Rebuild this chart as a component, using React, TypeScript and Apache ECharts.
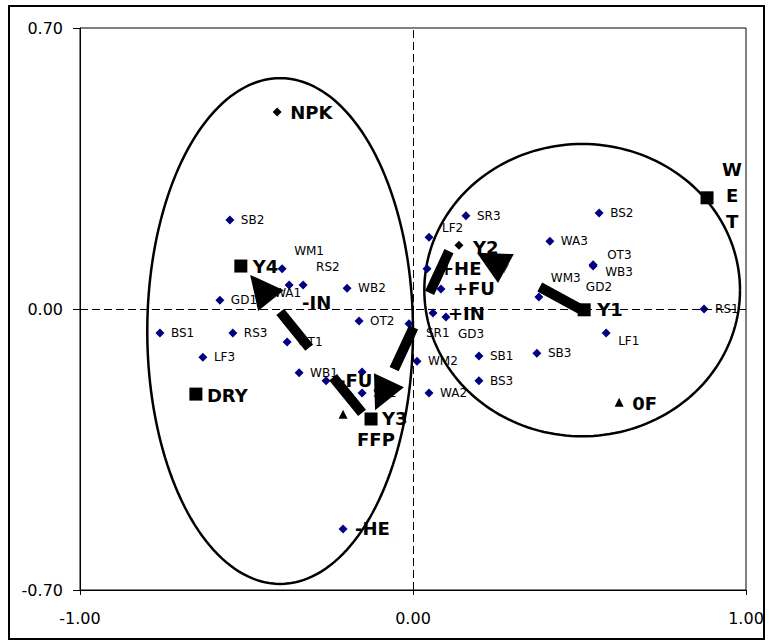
import React, { useEffect, useRef } from 'react';
import * as echarts from 'echarts';

// ---------- axis ticks ----------
const xTickLabels = ['-1.00', '0.00', '1.00'];
const yTickLabels = ['-0.70', '0.00', '0.70'];
const X_MIN = -1, X_MAX = 1, X_STEP = 1;
const Y_MIN = -0.7, Y_MAX = 0.7, Y_STEP = 0.7;

// ---------- samples (navy diamonds) ----------
const sampleNames = ['SB2', 'GD1', 'BS1', 'RS3', 'LF3', 'WM1', 'WA1', 'RS2', 'WB2', 'OT2', 'OT1', 'WB1', 'SR1', 'WM2', 'WA2', 'LF2', 'SR3', 'GD3', 'SB1', 'BS3', 'SB3', 'WA3', 'BS2', 'OT3', 'WB3', 'WM3', 'GD2', 'LF1', 'RS1', 'SR2'];
const sampleX = [-0.550, -0.580, -0.760, -0.541, -0.631, -0.393, -0.450, -0.330, -0.198, -0.162, -0.378, -0.342, -0.012, 0.012, 0.048, 0.048, 0.159, 0.099, 0.198, 0.198, 0.372, 0.411, 0.559, 0.541, 0.541, 0.378, 0.483, 0.580, 0.874, -0.153];
const sampleY = [0.222, 0.022, -0.060, -0.060, -0.120, 0.100, 0.040, 0.060, 0.052, -0.030, -0.082, -0.159, -0.037, -0.130, -0.209, 0.179, 0.232, -0.020, -0.117, -0.179, -0.110, 0.169, 0.239, 0.110, 0.107, 0.030, 0.007, -0.060, 0.000, -0.209];
const extraX = [-0.153];
const extraY = [-0.157];

// ---------- factors (navy diamonds, bold labels) ----------
const factorNames = ['-IN', '-FU', '+HE', '+FU', '+IN', '-HE'];
const factorX = [-0.372, -0.261, 0.042, 0.084, 0.060, -0.210];
const factorY = [0.060, -0.179, 0.100, 0.050, -0.010, -0.548];

// ---------- black squares ----------
const squareNames = ['Y4', 'DRY', 'Y3', 'Y1', 'WET'];
const squareX = [-0.517, -0.652, -0.126, 0.514, 0.883];
const squareY = [0.107, -0.212, -0.274, -0.002, 0.277];

// ---------- black triangles ----------
const triangleNames = ['FFP', '0F'];
const triangleX = [-0.210, 0.619];
const triangleY = [-0.262, -0.232];

// ---------- black diamonds ----------
const blackDiamondNames = ['NPK', 'Y2'];
const blackDiamondX = [-0.408, 0.138];
const blackDiamondY = [0.491, 0.159];

// ---------- arrows (trajectory Y1 -> Y2 -> Y3 -> Y4) ----------
const arrowTailX = [0.502, 0.108, -0.153];
const arrowTailY = [0.000, 0.144, -0.259];
const arrowTipX = [0.192, -0.114, -0.489];
const arrowTipY = [0.140, -0.252, 0.085];

// ---------- ellipses ----------
const ellipseCx = [-0.399, 0.508];
const ellipseCy = [-0.055, 0.047];
const ellipseRx = [0.399, 0.474];
const ellipseRy = [0.630, 0.364];

// ---------- styles (label placements in px, not data) ----------
const FONT = 'DejaVu Sans';
const NAVY = '#000080';
const labelShift: Record<string, [number, number]> = {
  WM1: [12, -18], RS2: [13, -18], SR1: [17, 9], LF2: [13, -9], GD3: [12, 17],
  OT3: [14, -10], WB3: [12, 6], WM3: [12, -19], GD2: [12, -19], LF1: [12, 8],
  '-IN': [13, 18], '+IN': [15, 0], DRY: [11, 1], Y3: [11, 0], Y1: [13, 0],
  FFP: [14, 25], '0F': [13, 1], NPK: [13, 1], Y2: [14, 2], WET: [25, -2],
};

function makeLabel(name: string, size: number, bold: boolean, def: number) {
  const s = labelShift[name] || [def, 0];
  const base: any = {
    show: true,
    position: 'right',
    distance: 0,
    offset: [s[0] - size / 2, s[1]],
    fontFamily: FONT,
    fontSize: bold ? 18 : 12,
    fontWeight: bold ? 'bold' : 'normal',
    color: '#000',
    formatter: name,
  };
  if (name === 'WET') {
    base.formatter = 'W\nE\nT';
    base.align = 'center';
    base.lineHeight = 26;
  }
  return base;
}

function buildItems(names: string[], xs: number[], ys: number[], size: number, bold: boolean, def: number) {
  return names.map((n, i) => ({ name: n, value: [xs[i], ys[i]], label: makeLabel(n, size, bold, def) }));
}

function tickFormatter(labels: string[], min: number, step: number) {
  return (v: number) => {
    const idx = Math.round((v - min) / step);
    return labels[idx] ?? '';
  };
}

export default function App() {
  const ref = useRef<HTMLDivElement>(null);

  useEffect(() => {
    if (!ref.current) return;
    const chart = echarts.init(ref.current, null, { renderer: 'svg' });

    const HEAD_LEN = 33;
    const HEAD_W = 33;

    const option: any = {
      animation: false,
      backgroundColor: '#fff',
      grid: {
        left: 80, right: 26, top: 28, bottom: 51,
        show: true, borderColor: '#000', borderWidth: 1, backgroundColor: 'transparent',
      },
      graphic: [
        {
          type: 'rect',
          shape: { x: 9, y: 6, width: 755, height: 633 },
          style: { fill: 'none', stroke: '#000', lineWidth: 2 },
          silent: true,
          z: 100,
        },
      ],
      xAxis: {
        type: 'value', min: X_MIN, max: X_MAX, interval: X_STEP,
        axisLine: { show: true, onZero: false, lineStyle: { color: '#000', width: 1 } },
        axisTick: { show: true, length: 5, lineStyle: { color: '#000' } },
        splitLine: { show: false },
        axisLabel: {
          formatter: tickFormatter(xTickLabels, X_MIN, X_STEP),
          fontFamily: FONT, fontSize: 16, color: '#000', margin: 20,
        },
      },
      yAxis: {
        type: 'value', min: Y_MIN, max: Y_MAX, interval: Y_STEP,
        axisLine: { show: true, onZero: false, lineStyle: { color: '#000', width: 1 } },
        axisTick: { show: true, length: 7, lineStyle: { color: '#000' } },
        splitLine: { show: false },
        axisLabel: {
          formatter: tickFormatter(yTickLabels, Y_MIN, Y_STEP),
          fontFamily: FONT, fontSize: 16, color: '#000', margin: 17,
        },
      },
      series: [
        {
          type: 'custom',
          name: 'ellipses',
          z: 1,
          clip: false,
          silent: true,
          data: ellipseCx.map((c, i) => [c, ellipseCy[i]]),
          renderItem: (params: any, api: any) => {
            const i = params.dataIndex;
            const pts: number[][] = [];
            const N = 180;
            for (let k = 0; k <= N; k++) {
              const t = (k / N) * Math.PI * 2;
              pts.push(api.coord([ellipseCx[i] + ellipseRx[i] * Math.cos(t), ellipseCy[i] + ellipseRy[i] * Math.sin(t)]));
            }
            return { type: 'polyline', shape: { points: pts }, style: { fill: 'none', stroke: '#000', lineWidth: 2.5 } };
          },
        },
        {
          type: 'scatter',
          name: 'samples',
          z: 3,
          symbol: 'diamond',
          symbolSize: 9,
          itemStyle: { color: NAVY, opacity: 1 },
          data: buildItems(sampleNames, sampleX, sampleY, 9, false, 11),
          markLine: {
            silent: true,
            symbol: ['none', 'none'],
            label: { show: false },
            lineStyle: { color: '#000', width: 1, type: [8, 4], opacity: 1 },
            data: [{ xAxis: 0 }, { yAxis: 0 }],
          },
        },
        {
          type: 'scatter',
          name: 'unlabeled',
          z: 3,
          symbol: 'diamond',
          symbolSize: 9,
          itemStyle: { color: NAVY, opacity: 1 },
          data: extraX.map((x, i) => [x, extraY[i]]),
        },
        {
          type: 'scatter',
          name: 'factors',
          z: 3,
          symbol: 'diamond',
          symbolSize: 9,
          itemStyle: { color: NAVY, opacity: 1 },
          data: buildItems(factorNames, factorX, factorY, 9, true, 12),
        },
        {
          type: 'custom',
          name: 'arrows',
          z: 5,
          silent: true,
          data: arrowTailX.map((x, i) => [x, arrowTailY[i]]),
          renderItem: (params: any, api: any) => {
            const i = params.dataIndex;
            const p1 = api.coord([arrowTailX[i], arrowTailY[i]]);
            const p2 = api.coord([arrowTipX[i], arrowTipY[i]]);
            const dx = p2[0] - p1[0];
            const dy = p2[1] - p1[1];
            const len = Math.hypot(dx, dy) || 1;
            const ux = dx / len, uy = dy / len;
            const bx = p2[0] - ux * HEAD_LEN, by = p2[1] - uy * HEAD_LEN;
            const px = -uy * HEAD_W / 2, py = ux * HEAD_W / 2;
            return {
              type: 'group',
              children: [
                {
                  type: 'line',
                  shape: { x1: p1[0], y1: p1[1], x2: bx, y2: by },
                  style: { stroke: '#000', lineWidth: 10, lineDash: [46, 38], lineCap: 'butt', fill: 'none' },
                },
                {
                  type: 'polygon',
                  shape: { points: [[p2[0], p2[1]], [bx + px, by + py], [bx - px, by - py]] },
                  style: { fill: '#000', stroke: 'none' },
                },
              ],
            };
          },
        },
        {
          type: 'scatter',
          name: 'squares',
          z: 6,
          symbol: 'rect',
          symbolSize: 13,
          itemStyle: { color: '#000', opacity: 1 },
          data: buildItems(squareNames, squareX, squareY, 13, true, 12),
        },
        {
          type: 'scatter',
          name: 'triangles',
          z: 6,
          symbol: 'triangle',
          symbolSize: 9,
          itemStyle: { color: '#000', opacity: 1 },
          data: buildItems(triangleNames, triangleX, triangleY, 9, true, 12),
        },
        {
          type: 'scatter',
          name: 'blackDiamonds',
          z: 6,
          symbol: 'diamond',
          symbolSize: 9,
          itemStyle: { color: '#000', opacity: 1 },
          data: buildItems(blackDiamondNames, blackDiamondX, blackDiamondY, 9, true, 12),
        },
      ],
    };

    chart.setOption(option);
    return () => chart.dispose();
  }, []);

  return (
    <div
      ref={ref}
      style={{ position: 'absolute', left: 0, top: 0, width: 772, height: 641, background: '#fff' }}
    />
  );
}
